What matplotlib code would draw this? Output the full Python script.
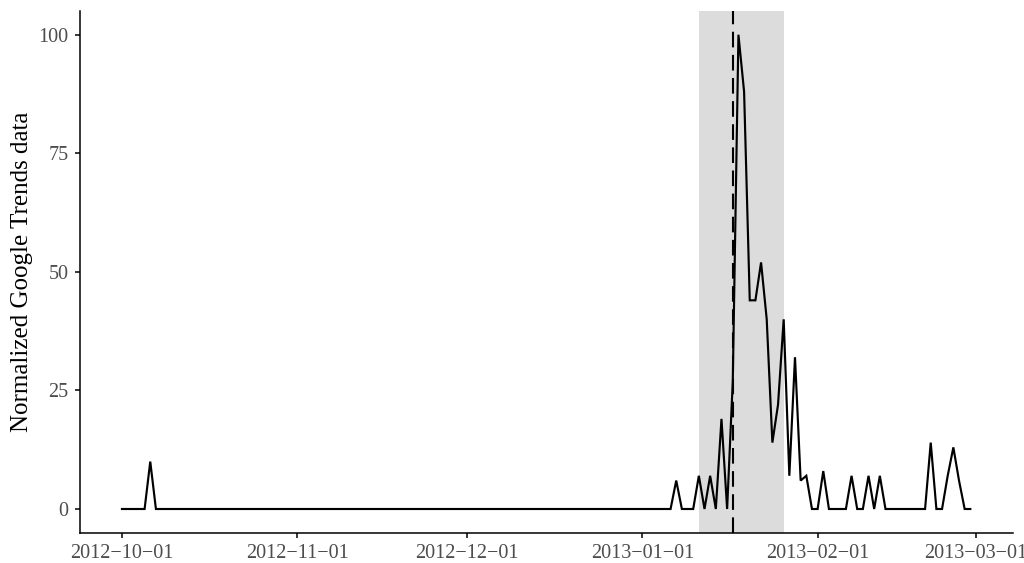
import numpy as np
import pandas as pd
import matplotlib
matplotlib.use("Agg")
import matplotlib.pyplot as plt
import matplotlib.dates as mdates

plt.rcParams.update({"font.family": "serif",
                     "font.serif": ["Liberation Serif", "DejaVu Serif"],
                     "axes.unicode_minus": True})

# daily Google Trends series, 2012-10-01 .. 2013-02-28
dates = pd.date_range("2012-10-01", "2013-02-28", freq="D")
hits = [0, 0, 0, 0, 0, 10, 0, 0, 0, 0,
        0, 0, 0, 0, 0, 0, 0, 0, 0, 0,
        0, 0, 0, 0, 0, 0, 0, 0, 0, 0,
        0, 0, 0, 0, 0, 0, 0, 0, 0, 0,
        0, 0, 0, 0, 0, 0, 0, 0, 0, 0,
        0, 0, 0, 0, 0, 0, 0, 0, 0, 0,
        0, 0, 0, 0, 0, 0, 0, 0, 0, 0,
        0, 0, 0, 0, 0, 0, 0, 0, 0, 0,
        0, 0, 0, 0, 0, 0, 0, 0, 0, 0,
        0, 0, 0, 0, 0, 0, 0, 0, 6, 0,
        0, 0, 7, 0, 7, 0, 19, 0, 27, 100,
        88, 44, 44, 52, 40, 14, 22, 40, 7, 32,
        6, 7, 0, 0, 8, 0, 0, 0, 0, 7,
        0, 0, 7, 0, 7, 0, 0, 0, 0, 0,
        0, 0, 0, 14, 0, 0, 7, 13, 6, 0,
        0]

window_start = pd.Timestamp("2013-01-11")
window_end = pd.Timestamp("2013-01-26")
event_date = pd.Timestamp("2013-01-17")

x_ticks = pd.to_datetime(["2012-10-01", "2012-11-01", "2012-12-01",
                          "2013-01-01", "2013-02-01", "2013-03-01"])
y_ticks = [0, 25, 50, 75, 100]

fig = plt.figure(figsize=(10.24, 5.63), dpi=100)
ax = fig.add_axes([0.0777, 0.0538, 0.9113, 0.9266])

ax.axvspan(window_start, window_end, color="#DCDCDC", lw=0, zorder=0)
ax.axvline(event_date, color="black", lw=1.5, ls=(0, (7.5, 3.6)), zorder=2)
ax.plot(dates, hits, color="black", lw=1.55, solid_joinstyle="miter", zorder=3)

pad = pd.Timedelta(days=7.5)
ax.set_xlim(dates[0] - pad, dates[-1] + pad)
ax.set_ylim(-5, 105)

ax.set_xticks(x_ticks)
ax.xaxis.set_major_formatter(mdates.DateFormatter("%Y\u2212%m\u2212%d"))
ax.set_yticks(y_ticks)

for s in ("top", "right"):
    ax.spines[s].set_visible(False)
for s in ("left", "bottom"):
    ax.spines[s].set_linewidth(1.1)
ax.tick_params(length=3.9, width=1.1, labelsize=14.5, labelcolor="#4D4D4D", pad=4)
ax.set_ylabel("Normalized Google Trends data", fontsize=18, labelpad=4)

fig.savefig("out.png", dpi=100)
